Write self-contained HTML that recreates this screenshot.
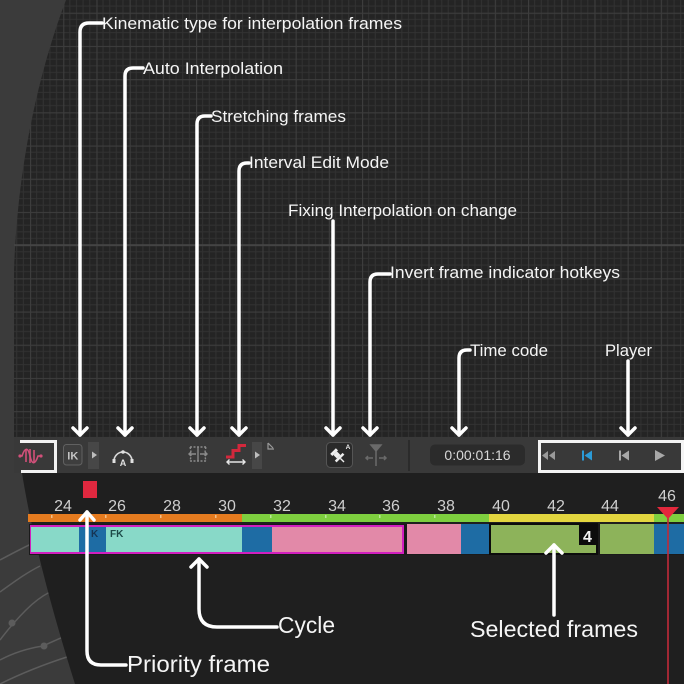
<!DOCTYPE html>
<html><head><meta charset="utf-8"><style>
html,body{margin:0;padding:0;background:#3a3a3a;}
svg{display:block;}
text{font-family:"Liberation Sans",sans-serif;}
</style></head><body>
<svg width="684" height="684" viewBox="0 0 684 684" xmlns="http://www.w3.org/2000/svg">
<defs>
<pattern id="g" x="30" y="12.7" width="33.2" height="33.2" patternUnits="userSpaceOnUse">
<rect width="33.2" height="33.2" fill="#242424"/>
<g stroke="#323232" stroke-width="1">
<line x1="6.64" y1="0" x2="6.64" y2="33.2"/><line x1="13.28" y1="0" x2="13.28" y2="33.2"/>
<line x1="19.92" y1="0" x2="19.92" y2="33.2"/><line x1="26.56" y1="0" x2="26.56" y2="33.2"/>
<line y1="6.64" x1="0" y2="6.64" x2="33.2"/><line y1="13.28" x1="0" y2="13.28" x2="33.2"/>
<line y1="19.92" x1="0" y2="19.92" x2="33.2"/><line y1="26.56" x1="0" y2="26.56" x2="33.2"/>
</g>
<g stroke="#3d3d3d" stroke-width="1.3">
<line x1="0.5" y1="0" x2="0.5" y2="33.2"/><line y1="0.5" x1="0" y2="0.5" x2="33.2"/>
</g>
</pattern>
</defs>

<!-- background -->
<rect width="684" height="684" fill="#3b3b3b"/>
<!-- bottom-left decorative -->
<g stroke="#5c5c5c" stroke-width="1.5" fill="none">
<path d="M0,560 C15,552 28,545 40,540"/>
<path d="M0,592 C14,582 26,573 40,566"/>
<path d="M0,640 C6,632 14,622 26,610 C34,602 42,596 50,592"/>
<path d="M0,660 C15,652 30,648 43,646 C52,642 60,638 66,636"/>
<path d="M0,684 C20,674 45,664 70,656"/>
</g>
<circle cx="12" cy="623" r="3.5" fill="#5c5c5c"/>
<circle cx="44" cy="646" r="3.5" fill="#5c5c5c"/>

<!-- grid area -->
<path d="M66,0 C45,55 18,150 14,270 L14,437 L684,437 L684,0 Z" fill="url(#g)"/>
<line x1="14" y1="245" x2="684" y2="245" stroke="#464646" stroke-width="1.5"/>

<!-- toolbar -->
<rect x="14" y="437" width="670" height="36" fill="#393939"/>
<!-- timeline panel -->
<path d="M22,473 L684,473 L684,684 L75,684 Q36,560 22,473 Z" fill="#1f1f1f"/>

<!-- left white box with wave -->
<path d="M20,441.5 L55.5,441.5 L55.5,471.5 L21,471.5" fill="none" stroke="#f2f2f2" stroke-width="3"/>
<g stroke="#d2507a" fill="none" stroke-width="1.6">
<path d="M19,456 L22,456 C25,447 28,447 30,456 C32,465 35,465 38,456 L41,456"/>
<line x1="26" y1="450" x2="26" y2="462"/><line x1="30" y1="449" x2="30" y2="463"/><line x1="34" y1="450" x2="34" y2="462"/>
</g>
<circle cx="20" cy="456" r="1.6" fill="#d2507a"/><circle cx="41" cy="456" r="1.6" fill="#d2507a"/>

<!-- IK -->
<rect x="63.5" y="444.5" width="18.5" height="20.5" rx="3" fill="#3e3e3e" stroke="#616161"/>
<text x="72.8" y="459.5" font-size="11" font-weight="bold" fill="#c4c4c4" text-anchor="middle">IK</text>
<rect x="88" y="442" width="11" height="27" fill="#474747"/>
<path d="M92,451.5 L97,455 L92,458.5 Z" fill="#bdbdbd"/>

<!-- auto interp -->
<path d="M114,461 A9,9 0 0 1 132,461" fill="none" stroke="#d8d8d8" stroke-width="1.6"/>
<circle cx="123" cy="452" r="1.8" fill="#e0e0e0"/>
<rect x="112.5" y="459" width="3" height="4" fill="#e0e0e0"/><rect x="130.5" y="459" width="3" height="4" fill="#e0e0e0"/>
<text x="123" y="466" font-size="9" font-weight="bold" fill="#e0e0e0" text-anchor="middle">A</text>

<!-- stretching -->
<g stroke="#8a8a8a" stroke-width="1.4" fill="none">
<path d="M190,447 Q192,454 190,461 M206,447 Q204,454 206,461 M190,447 L206,447 M190,461 L206,461" stroke-dasharray="2 1.5"/>
<line x1="198" y1="447" x2="198" y2="461"/>
<path d="M189,454 L196,454 M191,452 L189,454 L191,456 M200,454 L207,454 M205,452 L207,454 L205,456"/>
</g>

<!-- interval edit -->
<path d="M226,457 L233,457 L233,450.5 L239,450.5 L239,445.5 L246,445.5" fill="none" stroke="#d3283c" stroke-width="3"/>
<g stroke="#e6e6e6" stroke-width="1.4" fill="none">
<path d="M227,462 L245,462 M229.5,459.5 L227,462 L229.5,464.5 M242.5,459.5 L245,462 L242.5,464.5"/>
</g>
<rect x="252" y="442" width="10" height="27" fill="#474747"/>
<path d="M255,451.5 L260,455 L255,458.5 Z" fill="#bdbdbd"/>
<path d="M268,443 L268,449 L274,449 M268,443 L273,448" stroke="#9a9a9a" stroke-width="1.2" fill="none"/>

<!-- pin -->
<rect x="326.5" y="442.5" width="26" height="25" rx="4" fill="#2a2a2a" stroke="#555"/>
<g transform="translate(338,456) rotate(-45)">
<rect x="-4" y="-7" width="8" height="3" fill="#eee"/>
<rect x="-2.5" y="-4" width="5" height="5" fill="#eee"/>
<rect x="-5.5" y="1" width="11" height="2.5" fill="#eee"/>
<rect x="-0.7" y="3.5" width="1.4" height="5" fill="#eee"/>
</g>
<text x="348" y="449" font-size="6.5" font-weight="bold" fill="#eee" text-anchor="middle">A</text>

<!-- fork -->
<g stroke="#6a6a6a" stroke-width="1.5" fill="none">
<path d="M371,445 L381,445 L376,451 Z" fill="#6a6a6a"/>
<line x1="376" y1="451" x2="376" y2="466"/>
<path d="M366,458 L373,458 M368,456 L366,458 L368,460 M379,458 L386,458 M384,456 L386,458 L384,460"/>
</g>
<line x1="409" y1="440" x2="409" y2="471" stroke="#2b2b2b" stroke-width="2"/>

<!-- time code -->
<rect x="430" y="444.5" width="95" height="21" rx="5" fill="#2b2b2b"/>
<text x="477.5" y="460" font-size="14" fill="#d8d8d8" text-anchor="middle">0:00:01:16</text>

<!-- player -->
<rect x="539.5" y="441.5" width="143" height="30" fill="none" stroke="#f4f4f4" stroke-width="3"/>
<path d="M548,451 L542,455.5 L548,460 Z M555,451 L549,455.5 L555,460 Z" fill="#9a9a9a"/>
<rect x="582" y="450.5" width="2" height="10" fill="#2b9ad6"/><path d="M592,450.5 L584.5,455.5 L592,460.5 Z" fill="#2b9ad6"/>
<rect x="619" y="450.5" width="2" height="10" fill="#a8a8a8"/><path d="M629,450.5 L621.5,455.5 L629,460.5 Z" fill="#a8a8a8"/>
<path d="M655,450 L665,455.5 L655,461 Z" fill="#a8a8a8"/>

<!-- priority red square -->
<rect x="83" y="481" width="14" height="17" fill="#e0283f"/>

<!-- frame numbers -->
<g font-size="16" fill="#cfcfcf" text-anchor="middle">
<text x="63" y="511">24</text><text x="117" y="511">26</text><text x="172" y="511">28</text>
<text x="227" y="511">30</text><text x="282" y="511">32</text><text x="337" y="511">34</text>
<text x="391" y="511">36</text><text x="446" y="511">38</text><text x="501" y="511">40</text>
<text x="556" y="511">42</text><text x="610" y="511">44</text><text x="667" y="501">46</text>
</g>

<!-- top bar -->
<rect x="28" y="514" width="214" height="8" fill="#e57b1f"/>
<rect x="242" y="514" width="247" height="8" fill="#7ecf3f"/>
<rect x="489" y="514" width="165" height="8" fill="#e3d63f"/>
<rect x="654" y="514" width="30" height="8" fill="#7ecf3f"/>
<g fill="#f2c08a">
<rect x="51" y="515" width="1.5" height="3"/><rect x="105" y="515" width="1.5" height="3"/><rect x="160" y="515" width="1.5" height="3"/><rect x="215" y="515" width="1.5" height="3"/>
</g>
<g fill="#b8ea98">
<rect x="270" y="515" width="1.5" height="3"/><rect x="325" y="515" width="1.5" height="3"/><rect x="379" y="515" width="1.5" height="3"/><rect x="434" y="515" width="1.5" height="3"/>
</g>

<!-- track -->
<rect x="29" y="524" width="655" height="31" fill="#1a1a1a"/>
<rect x="30" y="525" width="374" height="29" fill="#d21fbf"/>
<rect x="31" y="527" width="48" height="25" fill="#88d9c8"/>
<rect x="79" y="527" width="27" height="25" fill="#1e6ca4"/>
<rect x="106" y="527" width="136" height="25" fill="#88d9c8"/>
<rect x="242" y="527" width="30" height="25" fill="#1e6ca4"/>
<rect x="272" y="527" width="130" height="25" fill="#e289a8"/>
<text x="91" y="537" font-size="10" font-weight="bold" fill="#163454">K</text>
<text x="110" y="537" font-size="10" font-weight="bold" fill="#1d4a48">FK</text>
<rect x="407" y="524" width="54" height="30" fill="#e289a8"/>
<rect x="461" y="524" width="28" height="30" fill="#1e6ca4"/>
<rect x="490" y="524" width="107" height="30" fill="#8db35a" stroke="#0c0c0c" stroke-width="2"/>
<rect x="579" y="524" width="17" height="21" fill="#0c0c0c"/>
<text x="587.5" y="542" font-size="16" font-weight="bold" fill="#f2f2f2" text-anchor="middle">4</text>
<rect x="600" y="524" width="54" height="30" fill="#8db35a"/>
<rect x="654" y="524" width="30" height="30" fill="#1e6ca4"/>

<!-- playhead -->
<line x1="668" y1="510" x2="668" y2="684" stroke="#c22a3a" stroke-width="1.6"/>
<path d="M657,507 L679,507 L668,519 Z" fill="#e3283c"/>

<!-- connectors -->
<g fill="none" stroke="#ffffff" stroke-width="3.5" stroke-linecap="round" stroke-linejoin="round">
<path d="M102,23 L89,23 Q80,23 80,32 L80,435"/><path d="M73,428 L80,435 L87,428"/>
<path d="M143,68 L133,68 Q125,68 125,76 L125,435"/><path d="M118,428 L125,435 L132,428"/>
<path d="M211,116 L205,116 Q197,116 197,124 L197,435"/><path d="M190,428 L197,435 L204,428"/>
<path d="M249,163 L247,163 Q239,163 239,171 L239,435"/><path d="M232,428 L239,435 L246,428"/>
<path d="M333,221 L333,435"/><path d="M326,428 L333,435 L340,428"/>
<path d="M390,274 L378,274 Q370,274 370,282 L370,435"/><path d="M363,428 L370,435 L377,428"/>
<path d="M470,350 L467,350 Q459,350 459,358 L459,435"/><path d="M452,428 L459,435 L466,428"/>
<path d="M628,361 L628,435"/><path d="M621,428 L628,435 L635,428"/>
<!-- bottom -->
<path d="M87,512 L87,651 Q87,665 101,665 L126,665"/><path d="M80,520 L87,512 L94,520"/>
<path d="M199,559 L199,609 Q199,627 217,627 L277,627"/><path d="M191,567 L199,559 L207,567"/>
<path d="M554,545 L554,615"/><path d="M546,553 L554,545 L562,553"/>
</g>

<!-- labels -->
<g fill="#f5f5f5" font-size="17">
<text x="102" y="29" textLength="300" lengthAdjust="spacingAndGlyphs">Kinematic type for interpolation frames</text>
<text x="143" y="74" textLength="140" lengthAdjust="spacingAndGlyphs">Auto Interpolation</text>
<text x="211" y="122" textLength="135" lengthAdjust="spacingAndGlyphs">Stretching frames</text>
<text x="249" y="168" textLength="140" lengthAdjust="spacingAndGlyphs">Interval Edit Mode</text>
<text x="288" y="216" textLength="229" lengthAdjust="spacingAndGlyphs">Fixing Interpolation on change</text>
<text x="390" y="278" textLength="230" lengthAdjust="spacingAndGlyphs">Invert frame indicator hotkeys</text>
<text x="470" y="356" textLength="78" lengthAdjust="spacingAndGlyphs">Time code</text>
<text x="605" y="356" textLength="47" lengthAdjust="spacingAndGlyphs">Player</text>
</g>
<g fill="#f5f5f5" font-size="23">
<text x="127" y="672" textLength="143" lengthAdjust="spacingAndGlyphs">Priority frame</text>
<text x="278" y="633" textLength="57" lengthAdjust="spacingAndGlyphs">Cycle</text>
<text x="470" y="637" textLength="168" lengthAdjust="spacingAndGlyphs">Selected frames</text>
</g>
</svg>
</body></html>
